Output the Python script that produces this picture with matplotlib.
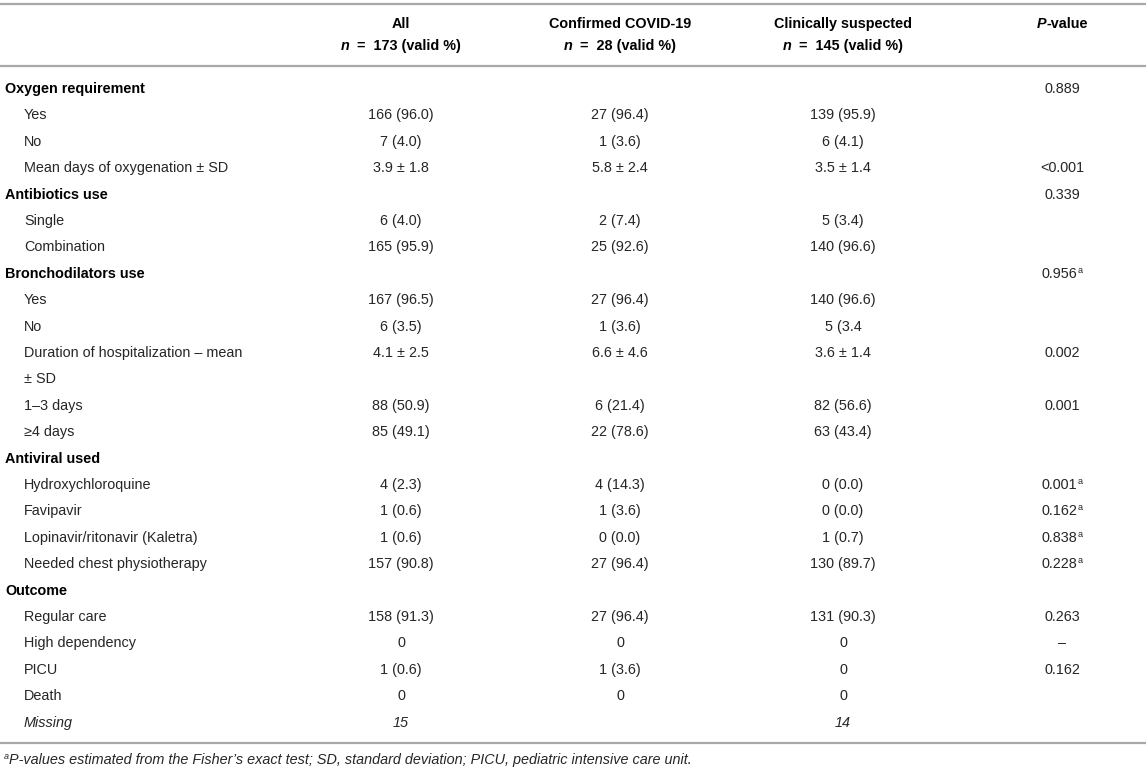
import matplotlib
matplotlib.use("Agg")
import matplotlib.pyplot as plt

plt.rcParams['font.family'] = ['Liberation Sans', 'DejaVu Sans']

# ---------------- data ----------------
col_headers = ["All", "Confirmed COVID-19", "Clinically suspected"]
col_n = ["173", "28", "145"]

row_labels = [
    "Oxygen requirement", "Yes", "No", "Mean days of oxygenation \u00b1 SD",
    "Antibiotics use", "Single", "Combination",
    "Bronchodilators use", "Yes", "No", "Duration of hospitalization \u2013 mean", "\u00b1 SD",
    "1\u20133 days", "\u22654 days",
    "Antiviral used", "Hydroxychloroquine", "Favipavir", "Lopinavir/ritonavir (Kaletra)",
    "Needed chest physiotherapy",
    "Outcome", "Regular care", "High dependency", "PICU", "Death", "Missing",
]
row_kind = [
    "section", "sub", "sub", "sub",
    "section", "sub", "sub",
    "section", "sub", "sub", "sub", "sub", "sub", "sub",
    "section", "sub", "sub", "sub", "sub",
    "section", "sub", "sub", "sub", "sub", "italic",
]
all_vals = [
    "", "166 (96.0)", "7 (4.0)", "3.9 \u00b1 1.8",
    "", "6 (4.0)", "165 (95.9)",
    "", "167 (96.5)", "6 (3.5)", "4.1 \u00b1 2.5", "", "88 (50.9)", "85 (49.1)",
    "", "4 (2.3)", "1 (0.6)", "1 (0.6)", "157 (90.8)",
    "", "158 (91.3)", "0", "1 (0.6)", "0", "15",
]
confirmed_vals = [
    "", "27 (96.4)", "1 (3.6)", "5.8 \u00b1 2.4",
    "", "2 (7.4)", "25 (92.6)",
    "", "27 (96.4)", "1 (3.6)", "6.6 \u00b1 4.6", "", "6 (21.4)", "22 (78.6)",
    "", "4 (14.3)", "1 (3.6)", "0 (0.0)", "27 (96.4)",
    "", "27 (96.4)", "0", "1 (3.6)", "0", "",
]
suspected_vals = [
    "", "139 (95.9)", "6 (4.1)", "3.5 \u00b1 1.4",
    "", "5 (3.4)", "140 (96.6)",
    "", "140 (96.6)", "5 (3.4", "3.6 \u00b1 1.4", "", "82 (56.6)", "63 (43.4)",
    "", "0 (0.0)", "0 (0.0)", "1 (0.7)", "130 (89.7)",
    "", "131 (90.3)", "0", "0", "0", "14",
]
p_vals = [
    "0.889", "", "", "<0.001",
    "0.339", "", "",
    "0.956", "", "", "0.002", "", "0.001", "",
    "", "0.001", "0.162", "0.838", "0.228",
    "", "0.263", "\u2013", "0.162", "", "",
]
p_notes = [
    "", "", "", "",
    "", "", "",
    "a", "", "", "", "", "", "",
    "", "a", "a", "a", "a",
    "", "", "", "", "", "",
]
footnote = ("P-values estimated from the Fisher\u2019s exact test; SD, standard deviation; "
            "PICU, pediatric intensive care unit.")

# ---------------- layout ----------------
W, H = 1146, 773
fig = plt.figure(figsize=(W / 100, H / 100), dpi=100)
ax = fig.add_axes([0, 0, 1, 1])
ax.set_xlim(0, W)
ax.set_ylim(H, 0)
ax.axis("off")
renderer = fig.canvas.get_renderer()

FS = 10.4
BODY = "#262626"
HEAD = "#000000"
LINE = "#a8a8a8"

col_x = [401, 620, 843, 1062]
label_x = 5
indent_x = 24
y0 = 93.0
dy = 26.4


def runs(x, y, parts, ha="center"):
    """parts: list of (text, kwargs, raise_px)."""
    widths = []
    arts = []
    for txt, kw, rise in parts:
        t = ax.text(0, 0, txt, va="baseline", ha="left", **kw)
        widths.append(t.get_window_extent(renderer).width)
        arts.append((t, rise))
    total = sum(widths)
    cx = x - total / 2 if ha == "center" else x
    for (t, rise), w in zip(arts, widths):
        t.set_position((cx, y - rise))
        cx += w


# rules
for yl in (4, 66, 743):
    ax.plot([0, W], [yl, yl], color=LINE, lw=1.6, solid_capstyle="butt")

# header
hb = dict(fontsize=FS, color=HEAD, fontweight="bold")
hbi = dict(fontsize=FS, color=HEAD, fontweight="bold", fontstyle="italic")
for cx, name, n in zip(col_x[:3], col_headers, col_n):
    runs(cx, 28, [(name, hb, 0)])
    runs(cx, 50, [("n", hbi, 0), ("  =  " + n + " (valid %)", hb, 0)])
runs(col_x[3], 28, [("P", hbi, 0), ("-value", hb, 0)])

# body
body = dict(fontsize=FS, color=BODY)
body_b = dict(fontsize=FS, color=HEAD, fontweight="bold")
body_i = dict(fontsize=FS, color=BODY, fontstyle="italic")
sup = dict(fontsize=FS * 0.62, color=BODY)

for i, lab in enumerate(row_labels):
    y = y0 + dy * i
    kind = row_kind[i]
    if kind == "section":
        ax.text(label_x, y, lab, va="baseline", ha="left", **body_b)
    elif kind == "italic":
        ax.text(indent_x, y, lab, va="baseline", ha="left", **body_i)
    else:
        ax.text(indent_x, y, lab, va="baseline", ha="left", **body)
    style = body_i if kind == "italic" else body
    for cx, v in zip(col_x[:3], (all_vals[i], confirmed_vals[i], suspected_vals[i])):
        if v:
            runs(cx, y, [(v, style, 0)])
    if p_vals[i]:
        parts = [(p_vals[i], body, 0)]
        if p_notes[i]:
            parts.append((p_notes[i], sup, 5))
        runs(col_x[3], y, parts)

# footnote
fi = dict(fontsize=FS, color=BODY, fontstyle="italic")
runs(4, 764, [("a", dict(fontsize=FS * 0.62, color=BODY, fontstyle="italic"), 5),
              (footnote, fi, 0)], ha="left")

fig.savefig("out.png", dpi=100)
